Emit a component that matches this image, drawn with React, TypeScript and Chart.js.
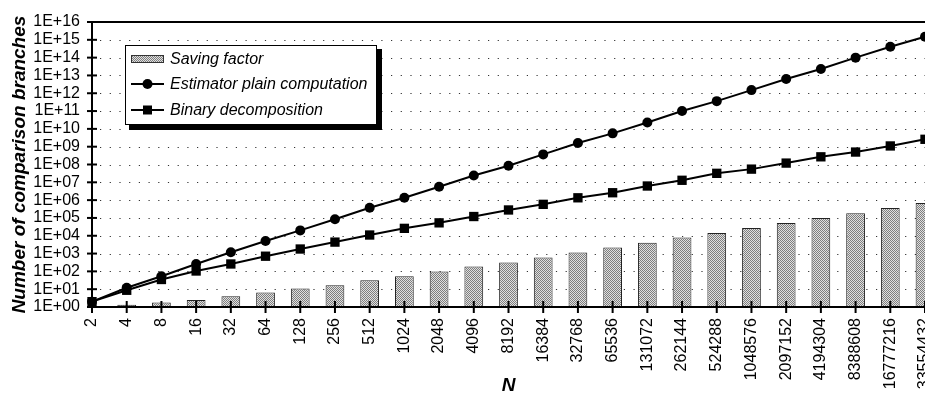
import React, { useEffect, useRef } from "react";
import { Chart, registerables } from "chart.js";

Chart.register(...registerables);

const nLabels = [
  "2", "4", "8", "16", "32", "64", "128", "256", "512", "1024", "2048", "4096", "8192",
  "16384", "32768", "65536", "131072", "262144", "524288", "1048576", "2097152",
  "4194304", "8388608", "16777216", "33554432",
];

const savingFactor = [
  1, 1.35, 1.8, 2.5, 4, 6.5, 10.8, 16.6, 32, 53, 98, 186, 315, 600, 1140, 2180, 4000,
  7900, 14400, 27500, 52000, 100000, 185000, 360000, 700000,
];

const estimatorPlain = [
  2, 12, 53, 260, 1180, 5100, 20000, 85000, 3.7e5, 1.35e6, 5.6e6, 2.4e7, 8.5e7, 3.7e8,
  1.6e9, 5.6e9, 2.3e10, 1.0e11, 3.6e11, 1.5e12, 6.3e12, 2.3e13, 1.0e14, 4.1e14, 1.5e15,
];

const binaryDecomp = [
  2, 8.7, 35, 105, 260, 710, 1800, 4400, 1.1e4, 2.6e4, 5.3e4, 1.2e5, 2.8e5, 5.8e5,
  1.35e6, 2.6e6, 6.2e6, 1.3e7, 3.2e7, 5.5e7, 1.2e8, 2.7e8, 5.0e8, 1.1e9, 2.6e9,
];

const yTickValues = [
  1, 1e1, 1e2, 1e3, 1e4, 1e5, 1e6, 1e7, 1e8, 1e9, 1e10, 1e11, 1e12, 1e13, 1e14, 1e15, 1e16,
];

const seriesNames = ["Saving factor", "Estimator plain computation", "Binary decomposition"];
const xTitle = "N";
const yTitle = "Number of comparison branches";

const FONT = "'Liberation Sans', Arial, Helvetica, sans-serif";

function fmtExp(v: number): string {
  const e = Math.round(Math.log10(v));
  return "1E+" + String(e).padStart(2, "0");
}

function makePattern(ctx: CanvasRenderingContext2D): CanvasPattern | string {
  const c = document.createElement("canvas");
  c.width = 2;
  c.height = 2;
  const g = c.getContext("2d");
  if (!g) return "#bbbbbb";
  g.fillStyle = "#e0e0e0";
  g.fillRect(0, 0, 2, 2);
  g.fillStyle = "#7e7e7e";
  g.fillRect(0, 0, 1, 1);
  g.fillRect(1, 1, 1, 1);
  return ctx.createPattern(c, "repeat") || "#bbbbbb";
}

export default function App() {
  const ref = useRef<HTMLCanvasElement | null>(null);

  useEffect(() => {
    const canvas = ref.current;
    if (!canvas) return;
    const ctx0 = canvas.getContext("2d") as CanvasRenderingContext2D;
    const pattern = makePattern(ctx0);

    Chart.defaults.font.family = FONT;
    Chart.defaults.color = "#000";

    const framePlugin = {
      id: "frame",
      beforeDatasetsDraw(chart: any) {
        const { ctx, chartArea: a, scales } = chart;
        const y = scales.y;
        ctx.save();
        ctx.strokeStyle = "#333";
        ctx.lineWidth = 1;
        ctx.setLineDash([1.2, 8.5]);
        for (const v of yTickValues) {
          if (v === yTickValues[0] || v === yTickValues[yTickValues.length - 1]) continue;
          const py = Math.round(y.getPixelForValue(v)) + 0.5;
          ctx.beginPath();
          ctx.moveTo(a.left + 8, py);
          ctx.lineTo(a.right, py);
          ctx.stroke();
        }
        ctx.restore();
      },
      afterDatasetsDraw(chart: any) {
        const { ctx, chartArea: a, scales } = chart;
        const x = scales.x;
        const y = scales.y;
        ctx.save();
        ctx.strokeStyle = "#000";
        ctx.lineWidth = 2;
        ctx.setLineDash([]);
        ctx.beginPath();
        ctx.moveTo(a.left, a.top);
        ctx.lineTo(a.right + 20, a.top);
        ctx.moveTo(a.left, a.top);
        ctx.lineTo(a.left, a.bottom);
        ctx.lineTo(a.right + 20, a.bottom);
        ctx.stroke();
        for (const v of yTickValues) {
          const py = y.getPixelForValue(v);
          ctx.beginPath();
          ctx.moveTo(a.left - 5, py);
          ctx.lineTo(a.left + 5, py);
          ctx.stroke();
        }
        for (let i = 0; i < nLabels.length; i++) {
          const px = x.getPixelForValue(i);
          ctx.beginPath();
          ctx.moveTo(px, a.bottom - 6);
          ctx.lineTo(px, a.bottom + 6);
          ctx.stroke();
        }
        ctx.restore();
      },
      afterDraw(chart: any) {
        const { ctx, chartArea: a } = chart;
        const bx = a.left + 33;
        const by = a.top + 23;
        const bw = 252;
        const bh = 80;
        ctx.save();
        ctx.setLineDash([]);
        ctx.fillStyle = "#000";
        ctx.fillRect(bx + 4, by + 4, bw + 1, bh + 1);
        ctx.fillStyle = "#fff";
        ctx.fillRect(bx, by, bw, bh);
        ctx.strokeStyle = "#000";
        ctx.lineWidth = 1;
        ctx.strokeRect(bx + 0.5, by + 0.5, bw - 1, bh - 1);

        const mx0 = bx + 6;
        const mx1 = bx + 39;
        const mc = (mx0 + mx1) / 2;
        const tx = bx + 45;
        const rows = [by + 14, by + 39, by + 65];

        ctx.fillStyle = pattern as any;
        ctx.fillRect(mx0, rows[0] - 4, mx1 - mx0, 8);
        ctx.strokeStyle = "#333";
        ctx.strokeRect(mx0 + 0.5, rows[0] - 3.5, mx1 - mx0 - 1, 7);

        ctx.strokeStyle = "#000";
        ctx.lineWidth = 2;
        for (const r of [rows[1], rows[2]]) {
          ctx.beginPath();
          ctx.moveTo(mx0, r);
          ctx.lineTo(mx1, r);
          ctx.stroke();
        }
        ctx.fillStyle = "#000";
        ctx.beginPath();
        ctx.arc(mc, rows[1], 5, 0, Math.PI * 2);
        ctx.fill();
        ctx.fillRect(mc - 4.5, rows[2] - 4.5, 9, 9);

        ctx.font = "italic 16px " + FONT;
        ctx.textBaseline = "middle";
        ctx.textAlign = "left";
        seriesNames.forEach((s, i) => ctx.fillText(s, tx, rows[i] + 1));
        ctx.restore();
      },
    };

    const chart = new Chart(canvas, {
      type: "line",
      data: {
        labels: nLabels,
        datasets: [
          {
            type: "bar",
            label: seriesNames[0],
            data: savingFactor,
            backgroundColor: pattern as any,
            borderColor: "#222",
            borderWidth: 1,
            categoryPercentage: 1,
            barPercentage: 0.54,
            order: 3,
            clip: false as any,
          } as any,
          {
            type: "line",
            label: seriesNames[1],
            data: estimatorPlain,
            borderColor: "#000",
            borderWidth: 2,
            pointStyle: "circle",
            pointRadius: 5,
            pointBackgroundColor: "#000",
            pointBorderColor: "#000",
            pointBorderWidth: 0,
            tension: 0,
            order: 1,
            clip: false as any,
          },
          {
            type: "line",
            label: seriesNames[2],
            data: binaryDecomp,
            borderColor: "#000",
            borderWidth: 2,
            pointStyle: "rect",
            pointRadius: 6.6,
            pointBackgroundColor: "#000",
            pointBorderColor: "#000",
            pointBorderWidth: 0,
            tension: 0,
            order: 2,
            clip: false as any,
          },
        ],
      },
      options: {
        responsive: false,
        animation: false,
        devicePixelRatio: 1,
        layout: { padding: { top: 22, right: 20, bottom: 0, left: 0 } },
        plugins: {
          legend: { display: false },
          tooltip: { enabled: false },
        },
        scales: {
          x: {
            type: "category",
            offset: false,
            grid: { display: false, drawTicks: false },
            border: { display: false },
            ticks: {
              autoSkip: false,
              minRotation: 90,
              maxRotation: 90,
              padding: 11,
              color: "#000",
              font: { size: 16, family: FONT },
            },
            title: {
              display: true,
              text: xTitle,
              color: "#000",
              font: { size: 19, family: FONT, style: "italic", weight: "bold" },
              padding: { top: 0, bottom: 0 },
            },
            afterFit: (s: any) => {
              s.height = 90;
              s.paddingLeft = 0;
              s.paddingRight = 0;
            },
          },
          y: {
            type: "logarithmic",
            min: yTickValues[0],
            max: yTickValues[yTickValues.length - 1],
            grid: { display: false, drawTicks: false },
            border: { display: false },
            afterBuildTicks: (s: any) => {
              s.ticks = yTickValues.map((v) => ({ value: v }));
            },
            ticks: {
              autoSkip: false,
              padding: 12,
              color: "#000",
              font: { size: 16, family: FONT },
              callback: (v: any) => fmtExp(Number(v)),
            },
            title: {
              display: true,
              text: yTitle,
              color: "#000",
              font: { size: 19, family: FONT, style: "italic", weight: "bold" },
              padding: { top: 8, bottom: 0 },
            },
            afterFit: (s: any) => {
              s.width = 92;
              s.paddingTop = 0;
              s.paddingBottom = 0;
            },
          },
        },
      } as any,
      plugins: [framePlugin as any],
    });

    return () => chart.destroy();
  }, []);

  return (
    <div
      style={{
        position: "fixed",
        left: 0,
        top: 0,
        width: 925,
        height: 397,
        overflow: "hidden",
        background: "#fff",
      }}
    >
      <canvas ref={ref} width={945} height={397} style={{ width: 945, height: 397, display: "block" }} />
    </div>
  );
}
